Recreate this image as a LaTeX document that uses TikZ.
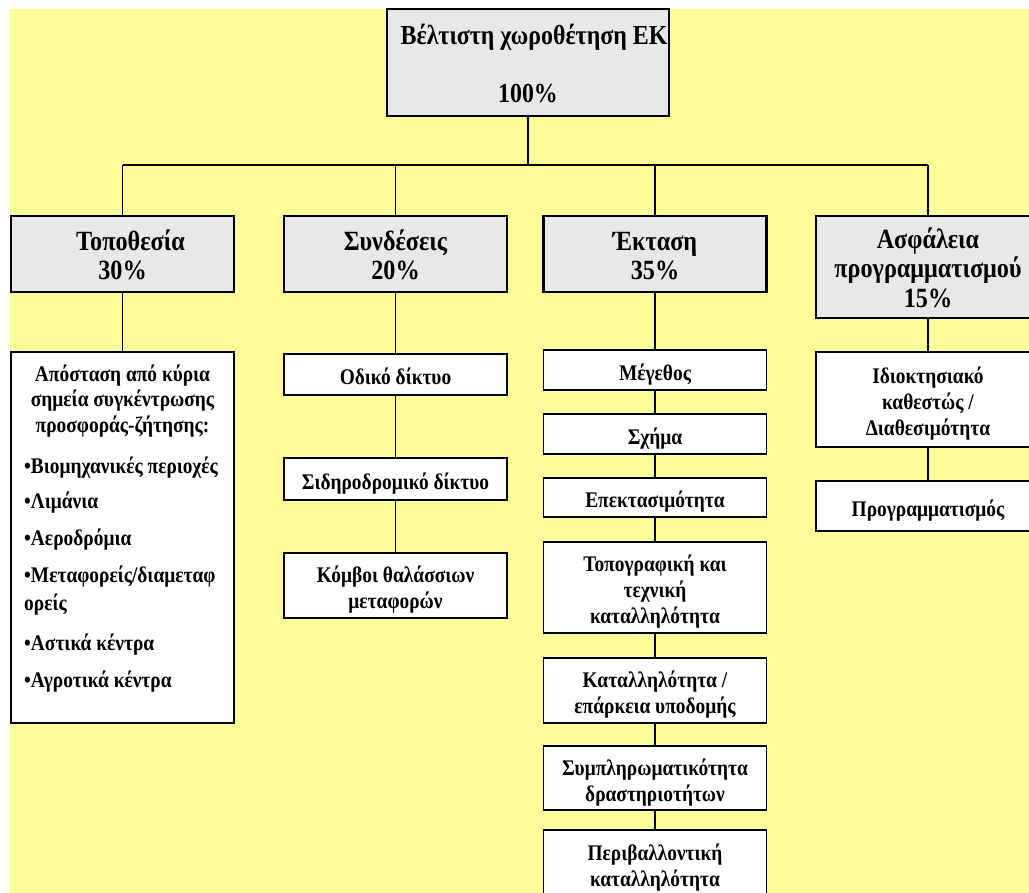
\documentclass[tikz,border=0pt]{standalone}
\usepackage{graphicx}
\usepackage{fontspec}
\setmainfont{Liberation Serif}
\definecolor{bgyellow}{RGB}{254,252,153}
\definecolor{boxgray}{RGB}{232,232,232}
\newcommand{\ttl}{\fontsize{23.9}{25.6}\selectfont\bfseries}
\newcommand{\lvone}{\fontsize{24.2}{25.6}\selectfont\bfseries}
\newcommand{\lvtwo}{\fontsize{19.4}{22.8}\selectfont\bfseries}
\newcommand{\vs}[1]{\raisebox{-5pt}[\height][\depth]{\scalebox{1}[1.15]{\begin{tabular}{@{}c@{}}#1\end{tabular}}}}
\newcommand{\vsl}[1]{\scalebox{1}[1.15]{#1}}
\begin{document}
\begin{tikzpicture}[x=1pt,y=-1pt,
  mainbox/.style={draw=black,line width=2.8pt,fill=boxgray,inner sep=0pt,align=center,minimum width=223pt,font=\lvone},
  subbox/.style={draw=black,line width=1.8pt,fill=white,inner sep=0pt,align=center,minimum width=223pt,font=\lvtwo},
  link/.style={draw=black,line width=1.8pt},
  plain/.style={inner sep=0pt,font=\lvtwo}]
\useasboundingbox (0,0) rectangle (1029,893);
\clip (0,0) rectangle (1029,893);
\fill[bgyellow] (10,9) rectangle (1040,900);
% top
\node[mainbox,minimum width=282pt,minimum height=107pt,font=\ttl] (top) at (528,62.5) {\vs{\hspace*{12pt}Βέλτιστη χωροθέτηση ΕΚ\\[25pt]100\%}};
% level 1
\node[mainbox,minimum height=76pt] (loc) at (122.5,254) {\vs{\hspace*{16pt}Τοποθεσία\\30\%}};
\node[mainbox,minimum height=76pt] (con) at (395.5,254) {\vs{Συνδέσεις\\20\%}};
\node[mainbox,minimum height=76pt] (ext) at (655,254) {\vs{Έκταση\\35\%}};
\node[mainbox,minimum height=102pt,minimum width=224pt] (saf) at (928,267) {\vs{Ασφάλεια\\προγραμματισμού\\15\%}};
% bus
\coordinate (bus) at (528,165);
\coordinate (b1) at (122.5,165);
\coordinate (b2) at (395.5,165);
\coordinate (b3) at (655,165);
\coordinate (b4) at (928,165);
\draw[link] (top) -- (bus);
\draw[link] (b1) -- (b4);
\draw[link] (b1) -- (loc);
\draw[link] (b2) -- (con);
\draw[link] (b3) -- (ext);
\draw[link] (b4) -- (saf);
% column 1
\node[subbox,minimum height=371pt] (t1) at (122.5,537.5) {};
\node[plain,anchor=base] (t1a) at (122.5,382) {\vsl{Απόσταση από κύρια}};
\node[plain,anchor=base] (t1b) at (122.5,407) {\vsl{σημεία συγκέντρωσης}};
\node[plain,anchor=base] (t1c) at (122.5,433) {\vsl{προσφοράς-ζήτησης:}};
\node[plain,anchor=base west] (t1d) at (24,473) {\vsl{•Βιομηχανικές περιοχές}};
\node[plain,anchor=base west] (t1e) at (24,508) {\vsl{•Λιμάνια}};
\node[plain,anchor=base west] (t1f) at (24,545) {\vsl{•Αεροδρόμια}};
\node[plain,anchor=base west] (t1g) at (24,582) {\vsl{•Μεταφορείς/διαμεταφ}};
\node[plain,anchor=base west] (t1h) at (24,610) {\vsl{ορείς}};
\node[plain,anchor=base west] (t1i) at (24,650) {\vsl{•Αστικά κέντρα}};
\node[plain,anchor=base west] (t1j) at (24,687) {\vsl{•Αγροτικά κέντρα}};
\draw[link] (loc) -- (t1);
% column 2
\node[subbox,minimum height=41pt] (s1) at (395.5,374.5) {\vs{Οδικό δίκτυο}};
\node[subbox,minimum height=42pt] (s2) at (395.5,479) {\vs{Σιδηροδρομικό δίκτυο}};
\node[subbox,minimum height=65pt] (s3) at (395.5,585.5) {\vs{Κόμβοι θαλάσσιων\\μεταφορών}};
\draw[link] (con) -- (s1);
\draw[link] (s1) -- (s2);
\draw[link] (s2) -- (s3);
% column 3
\node[subbox,minimum height=40pt] (e1) at (655,370) {\vs{Μέγεθος}};
\node[subbox,minimum height=40pt] (e2) at (655,434) {\vs{Σχήμα}};
\node[subbox,minimum height=39pt] (e3) at (655,497.5) {\vs{Επεκτασιμότητα}};
\node[subbox,minimum height=91pt] (e4) at (655,587.5) {\vs{Τοπογραφική και\\τεχνική\\καταλληλότητα}};
\node[subbox,minimum height=65pt] (e5) at (655,690.5) {\vs{Καταλληλότητα /\\ επάρκεια υποδομής}};
\node[subbox,minimum height=64pt] (e6) at (655,778) {\vs{Συμπληρωματικότητα\\δραστηριοτήτων}};
\node[subbox,minimum height=67pt] (e7) at (655,863.5) {\vs{Περιβαλλοντική\\καταλληλότητα}};
\draw[link] (ext) -- (e1);
\draw[link] (e1) -- (e2);
\draw[link] (e2) -- (e3);
\draw[link] (e3) -- (e4);
\draw[link] (e4) -- (e5);
\draw[link] (e5) -- (e6);
\draw[link] (e6) -- (e7);
% column 4
\node[subbox,minimum height=95pt,minimum width=224pt] (a1) at (928,399.5) {\vs{Ιδιοκτησιακό\\καθεστώς /\\Διαθεσιμότητα}};
\node[subbox,minimum height=50pt,minimum width=224pt] (a2) at (928,506) {\vs{Προγραμματισμός}};
\draw[link] (saf) -- (a1);
\draw[link] (a1) -- (a2);
\end{tikzpicture}
\end{document}
